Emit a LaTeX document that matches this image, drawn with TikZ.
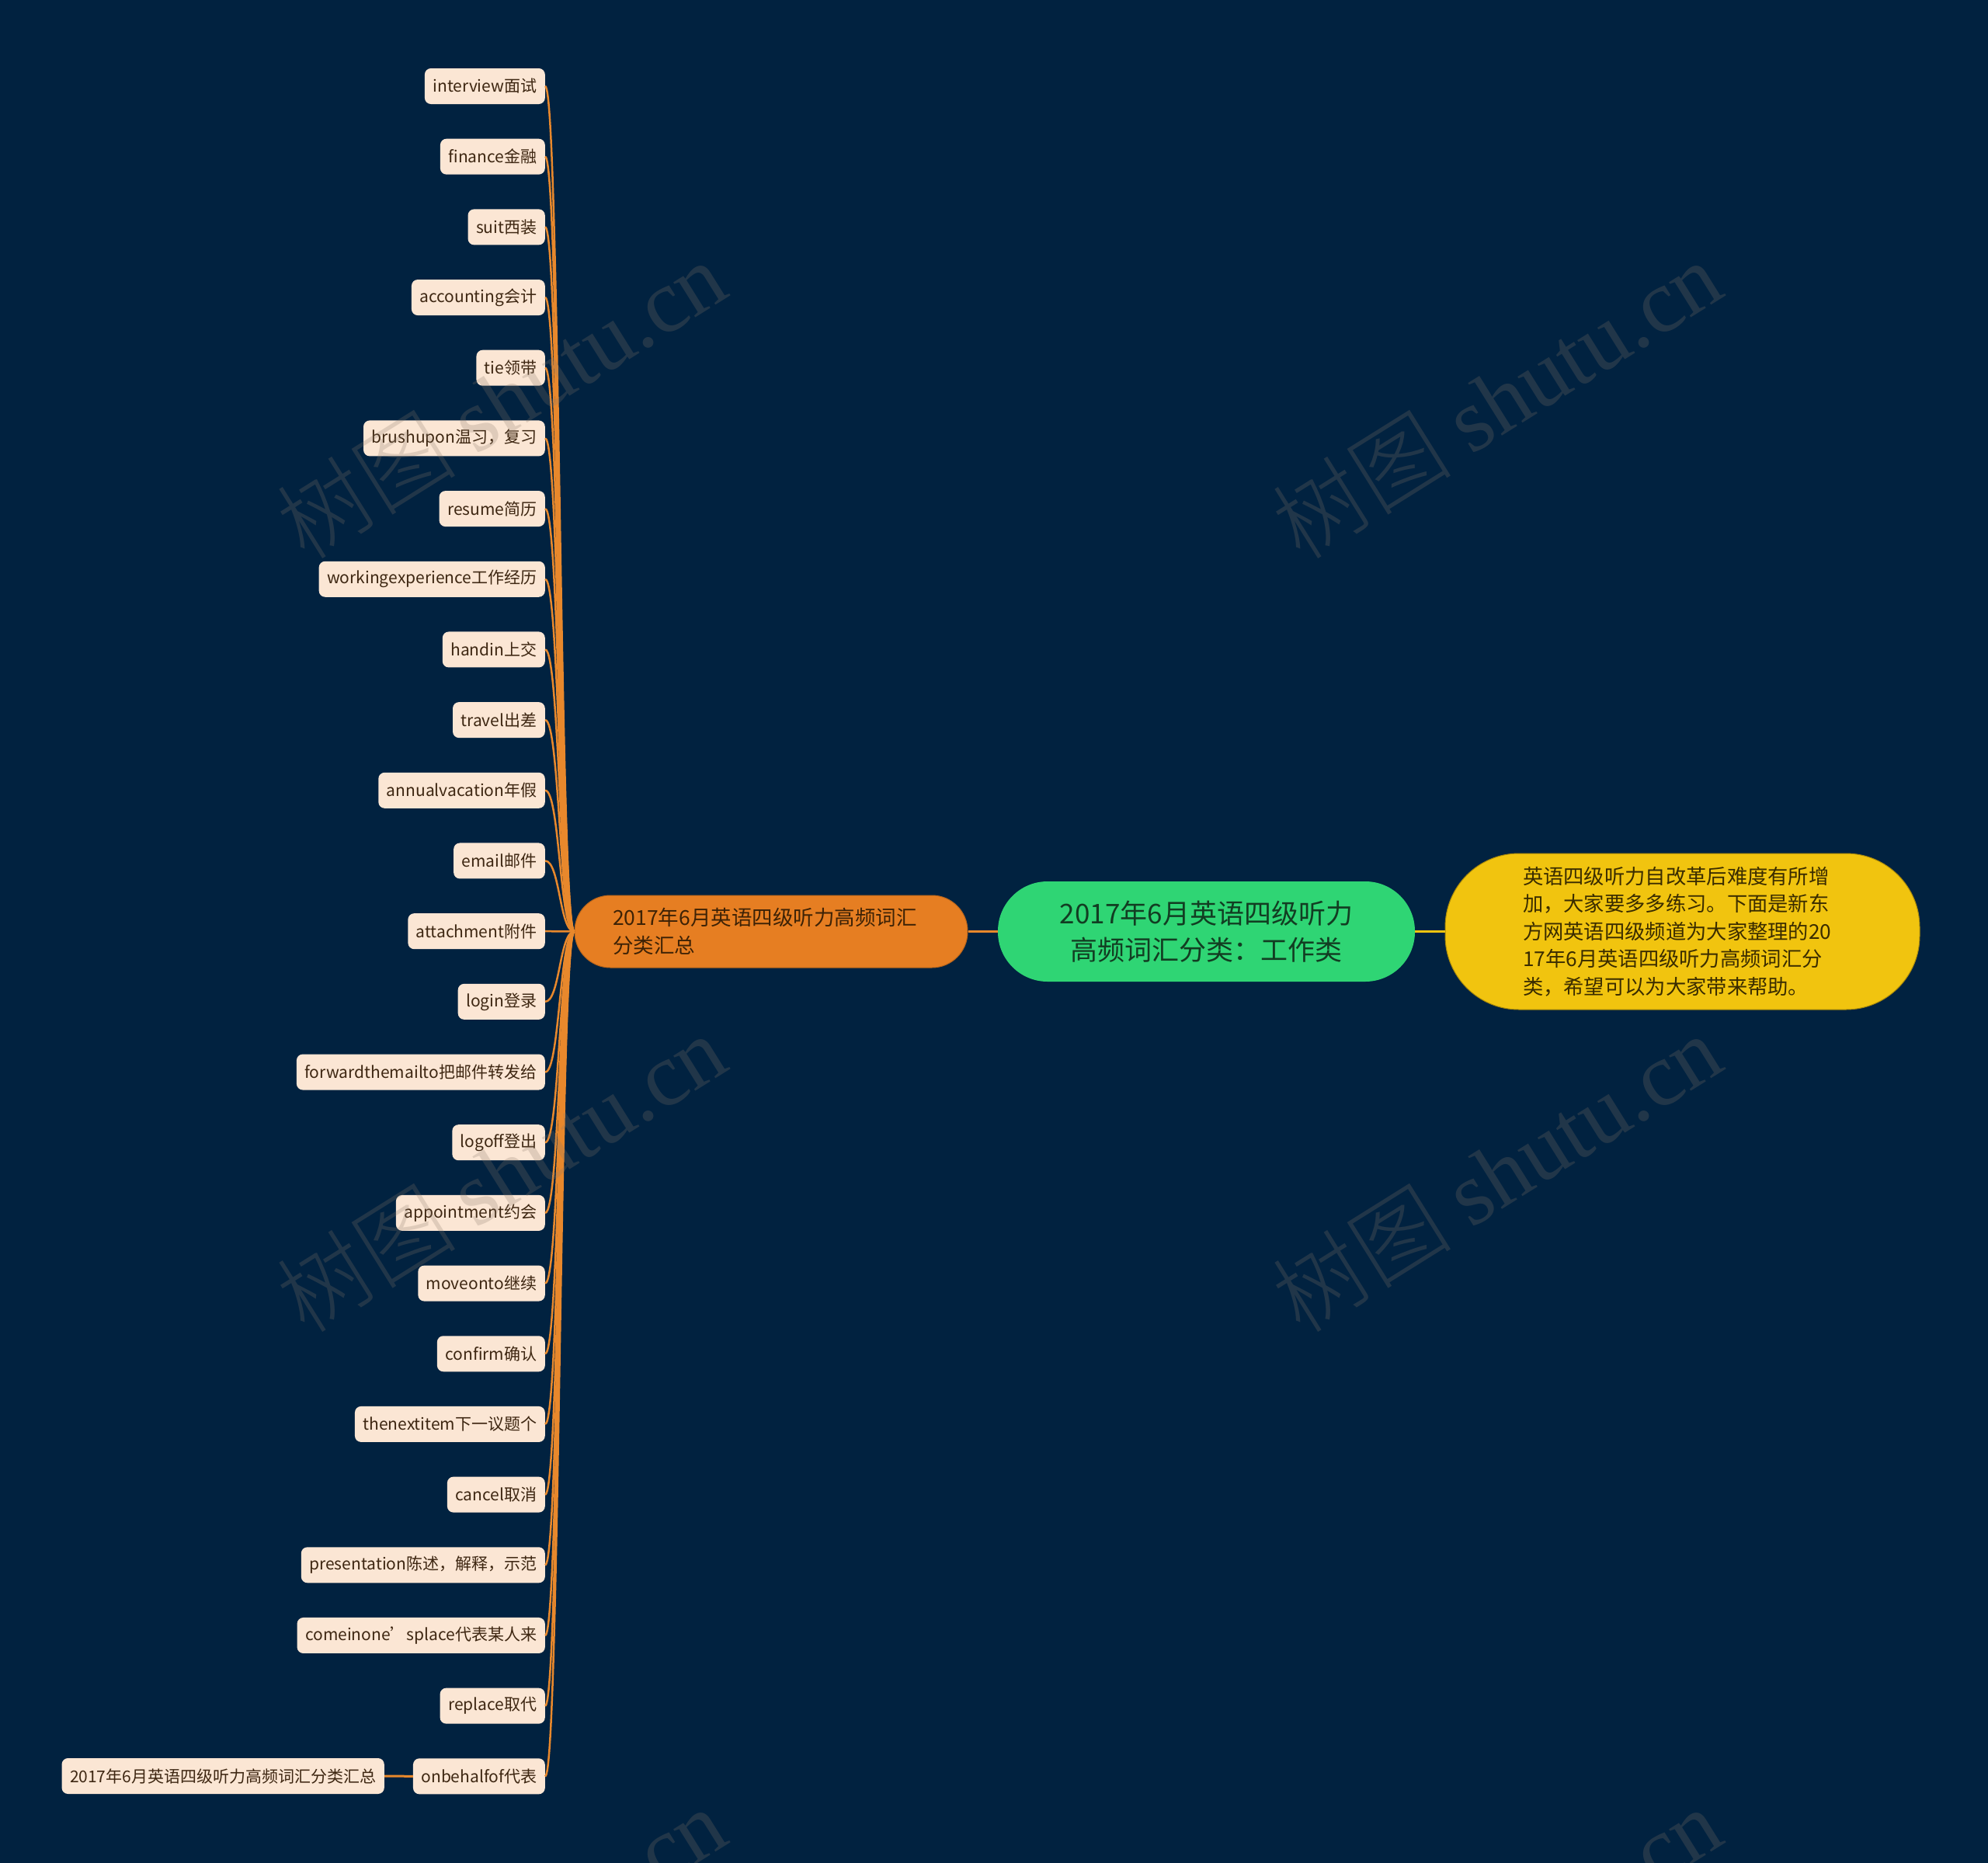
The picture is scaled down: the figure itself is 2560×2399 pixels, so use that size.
\documentclass[tikz,border=0pt]{standalone}
\usepackage{fontspec}
\setmainfont{Noto Sans CJK SC}
\newfontfamily\wmcjk{Noto Sans CJK SC Light}
\newfontfamily\wmlat{Liberation Serif}
\definecolor{bg}{HTML}{012240}
\definecolor{leaffill}{HTML}{FBE6D4}
\definecolor{leaftext}{HTML}{3E2712}
\definecolor{orangec}{HTML}{E67E22}
\definecolor{orangeline}{HTML}{E8882C}
\definecolor{orangetext}{HTML}{3D2206}
\definecolor{greenc}{HTML}{2FD574}
\definecolor{greentext}{HTML}{123D22}
\definecolor{yellowc}{HTML}{F1C40F}
\definecolor{yellowtext}{HTML}{3A2C00}
\definecolor{wmcol}{HTML}{8A7868}
\tikzset{
  leaf/.style={rectangle, rounded corners=8pt, fill=leaffill, text=leaftext,
    font=\fontsize{21}{25}\selectfont, inner xsep=10.5pt, inner ysep=0pt,
    minimum height=46pt, anchor=east},
  midnode/.style={rectangle, rounded corners=46pt, fill=orangec, draw=orangec!80!black, line width=1pt,
    text=orangetext, font=\fontsize{26.5}{36}\selectfont, text width=408pt, align=left,
    inner xsep=49pt, inner ysep=0pt, minimum height=93pt},
  rootnode/.style={rectangle, rounded corners=64pt, fill=greenc, text=greentext,
    font=\fontsize{35}{47}\selectfont, align=center, minimum width=537pt,
    minimum height=129pt, inner sep=0pt},
  descnode/.style={rectangle, rounded corners=95pt, fill=yellowc, draw=yellowc!70!black, line width=1pt,
    text=yellowtext, font=\fontsize{26.3}{35.4}\selectfont, text width=411pt, align=left,
    inner xsep=100pt, inner ysep=0pt, minimum height=201pt},
  conn/.style={draw=orangeline, line width=3pt},
  yconn/.style={draw=yellowc, line width=3pt},
  wm/.style={rotate=32, text=wmcol, text opacity=0.24, inner sep=0pt}
}
\begin{document}
\begin{tikzpicture}[x=1pt,y=-1pt]
\useasboundingbox (0,0) rectangle (2560,2399);
\fill[bg] (0,0) rectangle (2560,2399);

\node[rootnode] (root) at (1553.5,1199.5) {2017年6月英语四级听力\\高频词汇分类：工作类};
\node[midnode] (mid) at (993,1199.5) {2017年6月英语四级听力高频词汇\\分类汇总};
\node[descnode] (desc) at (2166.5,1199.5) {英语四级听力自改革后难度有所增\\加，大家要多多练习。下面是新东\\方网英语四级频道为大家整理的20\\17年6月英语四级听力高频词汇分\\类，希望可以为大家带来帮助。};

\draw[conn] (root.west) -- (mid.east);
\draw[yconn] (root.east) -- (desc.west);

\foreach \i/\t in {0/interview面试, 1/finance金融, 2/suit西装, 3/accounting会计,
  4/tie领带, 5/brushupon温习，复习, 6/resume简历, 7/workingexperience工作经历,
  8/handin上交, 9/travel出差, 10/annualvacation年假, 11/email邮件,
  12/attachment附件, 13/login登录, 14/forwardthemailto把邮件转发给, 15/logoff登出,
  16/appointment约会, 17/moveonto继续, 18/confirm确认, 19/thenextitem下一议题个,
  20/cancel取消, 21/presentation陈述，解释，示范, 22/comeinone’splace代表某人来,
  23/replace取代, 24/onbehalfof代表} {
  \node[leaf] (l\i) at (702,{111+\i*90.68}) {\t};
  \draw[conn, line width=2.5pt] (mid.west) .. controls ([xshift=-19pt]mid.west) and ([xshift=19pt]l\i.east) .. (l\i.east);
}

\node[leaf] (c1) at (495,2287) {2017年6月英语四级听力高频词汇分类汇总};
\draw[conn] (l24.west) -- (c1.east);

\foreach \k/\x/\y in {1/645/514, 2/1927/514, 3/645/1510, 4/1927/1510, 5/645/2506, 6/1927/2506} {
  \node[wm] (wm\k) at (\x,\y) {\fontsize{116}{126}\selectfont\wmcjk 树图 \wmlat shutu.cn};
}
\end{tikzpicture}
\end{document}
